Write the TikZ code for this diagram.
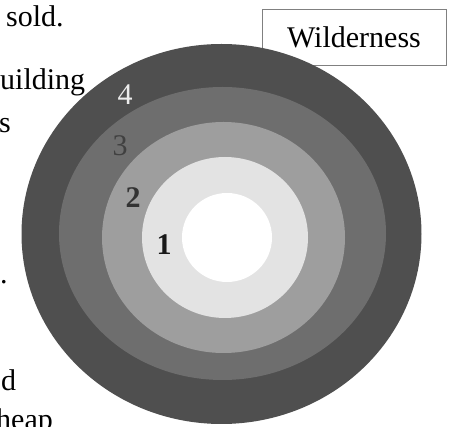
\documentclass[tikz,border=0pt]{standalone}
\usepackage{fontspec}
\setmainfont{Liberation Serif}
\usepackage{tikz}
\usetikzlibrary{positioning}

\definecolor{zonefour}{gray}{0.31}
\definecolor{zonethree}{gray}{0.43}
\definecolor{zonetwo}{gray}{0.62}
\definecolor{zoneone}{gray}{0.89}

\begin{document}
\begin{tikzpicture}[x=1pt, y=-1pt,
    txt/.style={inner sep=0pt, anchor=base west, font=\fontsize{30}{35}\selectfont},
    ringlabel/.style={inner sep=0pt, font=\fontsize{30}{35}\selectfont}]
  \useasboundingbox (0,0) rectangle (453,427);
  \clip (0,0) rectangle (453,427);
  \node[txt] (sold) at (6,27) {sold.};
  \node[txt] (build) at (0,90) {uilding};
  \node[txt] (s) at (-1,133) {s};
  \node[txt] (dot) at (0,284) {.};
  \node[txt] (d) at (1,391) {d};
  \node[txt] (heap) at (-4,430) {heap};
  \node[draw=gray, minimum width=184pt, minimum height=56pt, inner sep=0pt,
        font=\fontsize{30}{35}\selectfont] (wild) at (354,37) {Wilderness};
  \fill[zonefour] (221.5,234) ellipse [x radius=200pt, y radius=190pt];
  \fill[zonethree] (222.5,233.5) ellipse [x radius=163.5pt, y radius=146.5pt];
  \fill[zonetwo] (223.5,237.5) ellipse [x radius=121.5pt, y radius=115.5pt];
  \fill[zoneone] (225,237.5) ellipse [x radius=83pt, y radius=80.5pt];
  \fill[white] (227,237.5) ellipse [x radius=45pt, y radius=44.5pt];
  \node[ringlabel, text=gray!15] (four) at (125,95) {4};
  \node[ringlabel, text=black!75] (three) at (120,146) {3};
  \node[ringlabel, text=black!80, font=\fontsize{30}{35}\selectfont\bfseries] (two) at (133,198) {2};
  \node[ringlabel, text=black!90, font=\fontsize{30}{35}\selectfont\bfseries] (one) at (164,245) {1};
\end{tikzpicture}
\end{document}
